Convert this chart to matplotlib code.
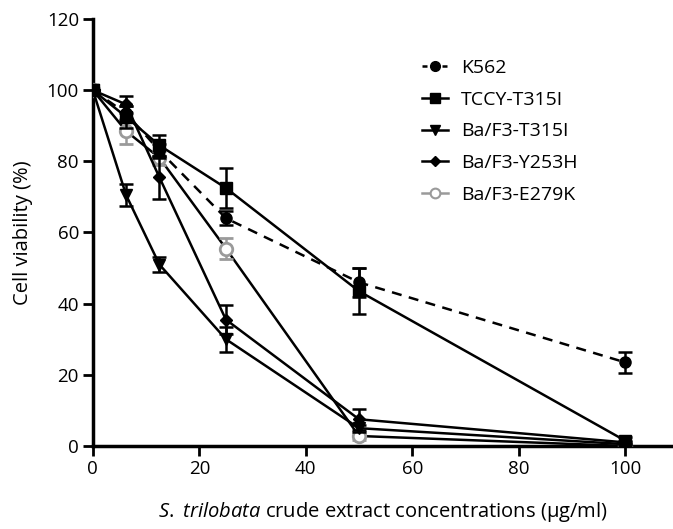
import numpy as np
import matplotlib
matplotlib.use("Agg")
import matplotlib.pyplot as plt
from matplotlib.lines import Line2D

plt.rcParams['font.family'] = ['Open Sans', 'DejaVu Sans']
plt.rcParams['mathtext.fontset'] = 'custom'
plt.rcParams['mathtext.rm'] = 'Open Sans'
plt.rcParams['mathtext.it'] = 'Open Sans:italic'

# concentrations (ug/ml)
conc = [0, 6.25, 12.5, 25, 50, 100]

# cell viability (%) and error per line
k562 = [100, 93.5, 83, 64, 46, 23.5]
k562_err = [0, 2, 2, 2, 4, 3]
tccy = [100, 92.5, 84.5, 72.5, 43.5, 1.5]
tccy_err = [0, 3, 3, 5.5, 6.5, 1]
t315i = [100, 70.5, 51, 30, 5, 0.5]
t315i_err = [0, 3, 2, 3.5, 1, 0.5]
y253h = [100, 96, 75.5, 35.5, 7.5, 1]
y253h_err = [0, 2.5, 6, 4, 3, 0.5]
e279k = [100, 88.5, 81, 55.5, 2.8, 0]
e279k_err = [0, 3.5, 2, 3, 1, 0.5]

names = ["K562", "TCCY-T315I", "Ba/F3-T315I", "Ba/F3-Y253H", "Ba/F3-E279K"]

fig = plt.figure(figsize=(6.73, 5.29), dpi=100)
ax = fig.add_axes([0.138, 0.157, 0.862, 0.807])

lw = 1.8
ekw = dict(capsize=5, elinewidth=1.8, capthick=1.8)
grey = "#9a9a9a"

# E279K first so the black markers sit on top of it
ax.plot(conc, e279k, color="black", lw=lw, zorder=2)
ax.errorbar(conc, e279k, yerr=e279k_err, color=grey, ls="none",
            marker="o", ms=9, mfc="white", mec=grey, mew=2, zorder=2.5, **ekw)

ax.errorbar(conc, k562, yerr=k562_err, color="black", ls=(0, (4, 3)), lw=lw,
            marker="o", ms=8, zorder=3, **ekw)
ax.errorbar(conc, tccy, yerr=tccy_err, color="black", ls="-", lw=lw,
            marker="s", ms=9, zorder=3, **ekw)
ax.errorbar(conc, t315i, yerr=t315i_err, color="black", ls="-", lw=lw,
            marker="v", ms=9, zorder=3, **ekw)
ax.errorbar(conc, y253h, yerr=y253h_err, color="black", ls="-", lw=lw,
            marker="D", ms=6, zorder=3, **ekw)

handles = [
    Line2D([], [], color="black", ls=(0, (2, 2)), lw=lw, marker="o", ms=7),
    Line2D([], [], color="black", ls="-", lw=lw, marker="s", ms=7),
    Line2D([], [], color="black", ls="-", lw=lw, marker="v", ms=7),
    Line2D([], [], color="black", ls="-", lw=lw, marker="D", ms=5),
    Line2D([], [], color=grey, ls="-", lw=lw, marker="o", ms=7,
           mfc="white", mec=grey, mew=1.5),
]
ax.legend(handles, names, loc="upper left", bbox_to_anchor=(0.627, 0.888),
          bbox_transform=fig.transFigure, borderpad=0, borderaxespad=0,
          frameon=False, fontsize=14, handlelength=1.35, labelspacing=0.7,
          handletextpad=0.65)

ax.set_xlim(0, 109)
ax.set_ylim(0, 120)
ax.set_xticks([0, 20, 40, 60, 80, 100])
ax.set_yticks([0, 20, 40, 60, 80, 100, 120])
ax.spines['top'].set_visible(False)
ax.spines['right'].set_visible(False)
ax.spines['left'].set_linewidth(2.5)
ax.spines['bottom'].set_linewidth(2.5)
ax.tick_params(width=2, length=7, labelsize=13.5, pad=3)

ax.set_ylabel("Cell viability (%)", fontsize=14.5, labelpad=10)
ax.set_xlabel(r"$\it{S.\ trilobata}$ crude extract concentrations (µg/ml)",
              fontsize=14.5, labelpad=16)

plt.savefig("out.png", dpi=100)
